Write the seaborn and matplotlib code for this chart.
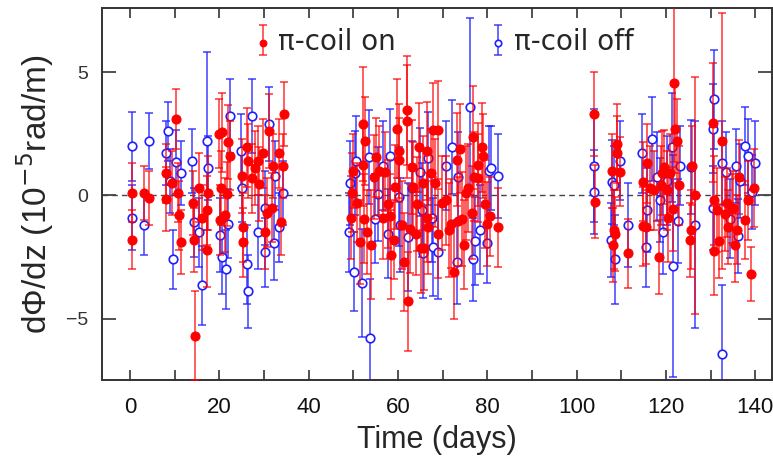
import numpy as np
import seaborn as sns
import matplotlib.pyplot as plt
from matplotlib.ticker import MultipleLocator
from matplotlib.container import ErrorbarContainer
from matplotlib.legend_handler import HandlerErrorbar

# pi-coil on (red, filled): day, value, error
on_day = [0.4, 0.4, 3.1, 4.3, 8.1, 8.1, 9.4, 10.3, 10.7, 11.0, 11.4, 14.1, 14.3, 14.6,
          15.5, 16.1, 17.2, 17.2, 17.4, 19.8, 20.6, 20.4, 20.2, 21.3, 21.9, 22.4, 21.7,
          25.1, 25.3, 25.3, 26.2, 26.5, 27.3, 28.0, 28.7, 28.9, 29.8, 30.7, 30.2, 31.1,
          32.0, 31.8, 33.4, 33.8, 34.3, 34.5,
          49.7, 50.0, 49.5, 50.8, 51.5, 52.2, 52.6, 52.2, 52.4, 53.1, 53.9, 54.5, 55.1,
          55.8, 56.6, 57.1, 57.8, 58.4, 58.1, 59.0, 59.4, 59.8, 60.1, 60.3, 60.9, 61.4,
          62.0, 62.1, 62.3, 62.7, 63.2, 63.4, 64.1, 64.3, 64.7, 65.2, 65.6, 65.8, 66.5,
          66.5, 67.4, 67.9, 69.0, 68.3, 66.7, 69.0, 69.9, 70.8, 71.5, 71.9, 72.6, 73.2,
          73.5, 73.9, 74.4, 74.8, 75.3, 75.7, 76.6, 76.8, 77.0, 77.9, 77.9, 78.8, 79.1,
          79.5, 79.9, 80.6, 82.4,
          103.9, 104.1, 107.9, 109.0, 109.1, 109.7, 108.4, 108.6, 108.2, 111.5, 114.9,
          114.9, 115.6, 115.8, 116.5, 117.4, 118.5, 118.9, 119.2, 119.6, 120.3, 120.5,
          120.9, 121.6, 121.8, 122.1, 122.5, 123.0, 125.9, 125.6, 125.4, 126.5, 130.6,
          130.8, 130.8, 131.5, 132.6, 131.9, 133.3, 133.7, 134.0, 134.8, 135.1, 135.5,
          135.9, 136.4, 137.7, 138.4, 139.1, 139.7]
on_val = [0.1, -1.8, 0.1, -0.1, -0.15, 0.9, 0.5, 3.1, 0.1, -0.8, -1.9, -0.3, -1.8, -5.7,
          0.3, -0.9, -2.2, -0.6, 0.1, 2.5, 2.55, 0.3, -1.0, -0.8, 2.15, 1.6, 0.05,
          0.8, -1.3, -1.9, 1.95, 1.4, 0.7, 1.1, 1.4, 0.45, 1.7, -0.7, -1.5, 2.6,
          1.2, -0.5, 1.7, -1.1, 1.2, 3.3,
          0.1, 1.0, -0.9, -0.3, -1.9, 2.9, 2.2, 1.25, -0.95, -1.5, -2.0, 0.75, 1.55,
          1.0, -0.9, 0.95, -0.35, -2.4, -0.85, -1.8, 0.35, 2.7, 1.8, 1.45, -1.2, -2.7,
          3.45, 3.0, -4.3, -1.35, 1.15, 0.35, -1.55, -0.35, 1.95, -2.15, 0.5, -2.15, 1.8,
          -0.9, 0.9, 2.65, 2.65, 0.5, -1.3, -1.55, -0.3, -0.2, -1.4, -1.15, -3.1, 1.45,
          -1.05, 1.9, -0.95, -2.0, 0.1, 0.3, -0.7, 2.35, 0.75, 1.25, 0.7, 1.95, 1.6,
          -0.35, -1.15, -0.85, -1.3,
          3.3, -0.25, 1.0, 2.1, 1.7, 0.95, -1.4, -1.55, -2.0, -2.35, 0.55,
          -1.25, -1.3, 1.3, 0.3, 0.2, -2.5, 0.4, 0.9, 1.15, 0.2, -0.9,
          0.9, -0.55, 4.55, 2.7, 2.2, 0.4, 1.2, -1.4, -1.8, 0.0, 2.95,
          -0.2, -2.25, -0.6, 2.2, -1.85, -0.75, -0.3, -1.3, -0.55, -0.5, -2.0,
          -1.4, 0.75, -1.0, -0.2, -3.2, 0.3]
on_err = [1.2, 1.2, 1.1, 1.1, 1.3, 1.2, 1.3, 1.2, 1.2, 1.4, 1.3, 1.3, 1.3, 1.8,
          1.4, 1.3, 1.5, 1.4, 1.5, 1.4, 1.6, 1.5, 1.4, 1.5, 1.5, 1.4, 1.3,
          1.5, 1.4, 1.4, 1.6, 1.5, 1.4, 1.5, 1.4, 1.5, 1.4, 1.4, 1.5, 1.5,
          1.3, 1.4, 1.4, 1.3, 1.3, 1.3,
          1.6, 1.5, 1.7, 1.6, 1.7, 2.3, 1.8, 1.7, 1.8, 1.7, 2.2, 1.7, 1.6,
          1.8, 1.7, 1.6, 1.8, 1.8, 1.7, 1.6, 1.7, 2.0, 1.9, 1.7, 1.8, 2.0,
          2.2, 2.3, 2.0, 1.8, 1.9, 1.8, 1.7, 1.9, 1.8, 1.8, 1.9, 1.7, 2.0,
          1.8, 1.8, 1.9, 2.0, 1.8, 1.9, 1.8, 1.9, 1.8, 1.9, 1.8, 1.9, 1.9,
          1.8, 1.8, 1.9, 1.8, 1.9, 1.8, 1.9, 2.1, 1.8, 1.7, 1.8, 1.8, 1.7,
          1.8, 1.7, 1.6, 1.6,
          1.7, 1.5, 1.5, 1.6, 1.5, 1.4, 1.6, 1.5, 1.5, 1.4, 1.6,
          1.6, 1.5, 1.6, 1.7, 1.6, 1.5, 1.6, 1.7, 1.5, 1.6, 1.8,
          1.6, 1.7, 3.2, 1.8, 1.7, 1.6, 1.6, 1.6, 1.5, 4.8, 2.4,
          1.8, 1.8, 1.7, 5.2, 1.5, 1.5, 1.4, 1.5, 1.4, 1.5, 1.5,
          1.4, 1.5, 1.6, 1.6, 1.1, 1.6]

# pi-coil off (blue, open): day, value, error
off_day = [0.4, 0.4, 4.3, 3.1, 8.5, 8.1, 9.0, 9.6, 10.3, 11.4, 13.9, 14.3, 15.5, 16.0,
           17.2, 17.5, 20.2, 20.6, 21.5, 22.4, 21.9, 24.9, 25.1, 26.2, 26.5, 27.3,
           28.7, 30.2, 30.2, 31.1, 32.3, 32.5, 33.4, 34.3,
           49.3, 49.1, 50.2, 50.6, 50.4, 52.0, 53.8, 53.4, 54.9, 55.4, 56.7, 58.2,
           57.8, 60.2, 60.5, 62.3, 63.2, 64.9, 65.4, 65.6, 66.7, 67.6, 67.9, 69.0,
           70.8, 72.1, 73.2, 73.5, 76.1, 76.8, 77.3, 78.4, 79.9, 80.4, 80.9, 82.4,
           103.9, 103.9, 107.9, 108.4, 107.7, 108.6, 109.7, 111.5, 114.7, 115.6, 115.8,
           116.9, 118.0, 118.7, 119.4, 120.3, 121.4, 121.6, 123.2, 122.7, 125.6, 126.5,
           130.8, 130.6, 130.6, 132.6, 132.6, 133.4, 134.4, 135.7, 136.2, 136.6, 137.7,
           138.4, 139.3, 140.0]
off_val = [2.0, -0.9, 2.2, -1.2, 2.6, 1.7, 0.6, -2.6, 1.35, 0.9, 1.4, -1.1, -1.5, -3.65,
           2.2, 1.1, -1.6, -2.5, -3.0, 3.2, -1.15, 1.8, 0.3, -2.8, -3.9, 3.2,
           -1.5, -2.3, -0.5, 2.9, -1.95, 0.8, -1.3, 0.1,
           0.5, -1.5, -3.1, 1.4, 0.9, -3.55, -5.8, 1.55, -0.95, 0.05, 1.2, 1.6,
           -1.55, -0.05, -1.2, -1.7, 0.3, 0.95, -0.6, -2.35, 1.5, -0.9, -2.1, -2.3,
           1.2, 1.95, -2.7, 0.75, 3.6, -2.6, -1.85, -1.4, -1.95, 1.0, 1.1, 0.8,
           1.2, 0.15, 0.55, 0.4, -1.8, -2.6, 1.4, -1.2, 1.7, -2.1, -0.6,
           2.3, 0.75, -0.2, -1.5, 0.6, 1.95, -2.85, 1.2, -1.05, 1.15, -1.2,
           3.9, 2.7, -0.5, -6.45, 1.3, 0.95, -0.95, 1.2, -1.65, 0.6, 2.0,
           1.6, 0.15, 1.3]
off_err = [1.4, 1.3, 1.15, 1.2, 1.2, 1.3, 1.3, 1.2, 1.3, 1.3, 1.3, 1.4, 1.4, 1.6,
           3.6, 1.3, 1.5, 1.5, 1.6, 1.5, 1.4, 1.5, 1.4, 1.6, 1.5, 1.5,
           1.5, 1.4, 1.5, 1.5, 1.5, 1.4, 1.4, 1.3,
           1.7, 1.6, 1.6, 1.8, 1.7, 2.2, 2.4, 1.9, 1.8, 1.9, 1.8, 1.9,
           1.8, 2.0, 1.9, 2.2, 1.9, 1.8, 1.9, 1.8, 1.9, 1.8, 2.0, 1.9,
           1.8, 1.9, 1.7, 1.8, 3.6, 1.7, 1.8, 1.8, 1.6, 1.8, 1.7, 1.7,
           2.3, 1.7, 1.7, 1.6, 1.5, 1.8, 1.6, 1.7, 1.6, 1.6, 1.7,
           1.7, 1.8, 1.7, 1.7, 1.8, 2.2, 4.5, 1.6, 1.7, 1.9, 4.2,
           2.0, 1.8, 1.7, 2.8, 1.7, 1.6, 1.6, 1.5, 1.5, 1.5, 1.6,
           1.5, 1.5, 1.7]

labels = ['π-coil on', 'π-coil off']
red = '#ff0000'
blue = '#1f1fff'

sns.set_style('ticks')
plt.rcParams['font.family'] = ['DejaVu Sans']
arial = ['Liberation Sans', 'DejaVu Sans']

fig = plt.figure(figsize=(7.73, 4.70), dpi=100)
ax = fig.add_axes([0.132, 0.191, 0.867, 0.792])

#
# error bars + markers
#
eb_off = ax.errorbar(off_day, off_val, yerr=off_err, fmt='none', ecolor=blue,
                     elinewidth=1.1, capsize=3, capthick=1.1, alpha=0.85, zorder=2)
sns.scatterplot(x=off_day, y=off_val, ax=ax, marker='o', s=38, facecolor='white',
                edgecolor=blue, linewidth=1.2, zorder=3, legend=False)
sc_off = ax.collections[-1]

eb_on = ax.errorbar(on_day, on_val, yerr=on_err, fmt='none', ecolor=red,
                    elinewidth=1.1, capsize=3, capthick=1.1, alpha=0.8, zorder=4)
sns.scatterplot(x=on_day, y=on_val, ax=ax, marker='o', s=42, color=red,
                edgecolor=red, linewidth=0.8, zorder=5, legend=False)
sc_on = ax.collections[-1]

ax.axhline(0, color='#444444', lw=1, ls=(0, (4, 3)), zorder=1)

ax.set_xlim(-6.3, 143.8)
ax.set_ylim(-7.5, 7.6)
ax.xaxis.set_major_locator(MultipleLocator(20))
ax.xaxis.set_minor_locator(MultipleLocator(10))
ax.yaxis.set_major_locator(MultipleLocator(5))
ax.tick_params(which='both', direction='in', top=True, right=True,
               length=7, width=1.2, color='#333333')
ax.tick_params(axis='y', length=10, pad=10)
ax.tick_params(axis='x', which='major', pad=12)
for sp in ax.spines.values():
    sp.set_linewidth(1.4)
    sp.set_color('#333333')

for t in ax.get_xticklabels():
    t.set_family(arial)
    t.set_fontsize(16)
    t.set_color('#111111')
for t in ax.get_yticklabels():
    t.set_family(arial)
    t.set_fontsize(14)
    t.set_color('#333333')

ax.set_xlabel('Time (days)', family=arial, fontsize=22, labelpad=5)
ax.set_ylabel('dΦ/dz (10$^{-5}$rad/m)', family=arial, fontsize=24, labelpad=7)

ax.legend([(eb_on, sc_on), (eb_off, sc_off)], labels, ncol=2, frameon=False,
          loc='center', bbox_to_anchor=(0.51, 0.909), fontsize=20,
          markerscale=0.75, columnspacing=3.4, handletextpad=0.25, handlelength=0.6,
          handler_map={ErrorbarContainer: HandlerErrorbar(yerr_size=0.55)})

fig.savefig('out.png', dpi=100)
